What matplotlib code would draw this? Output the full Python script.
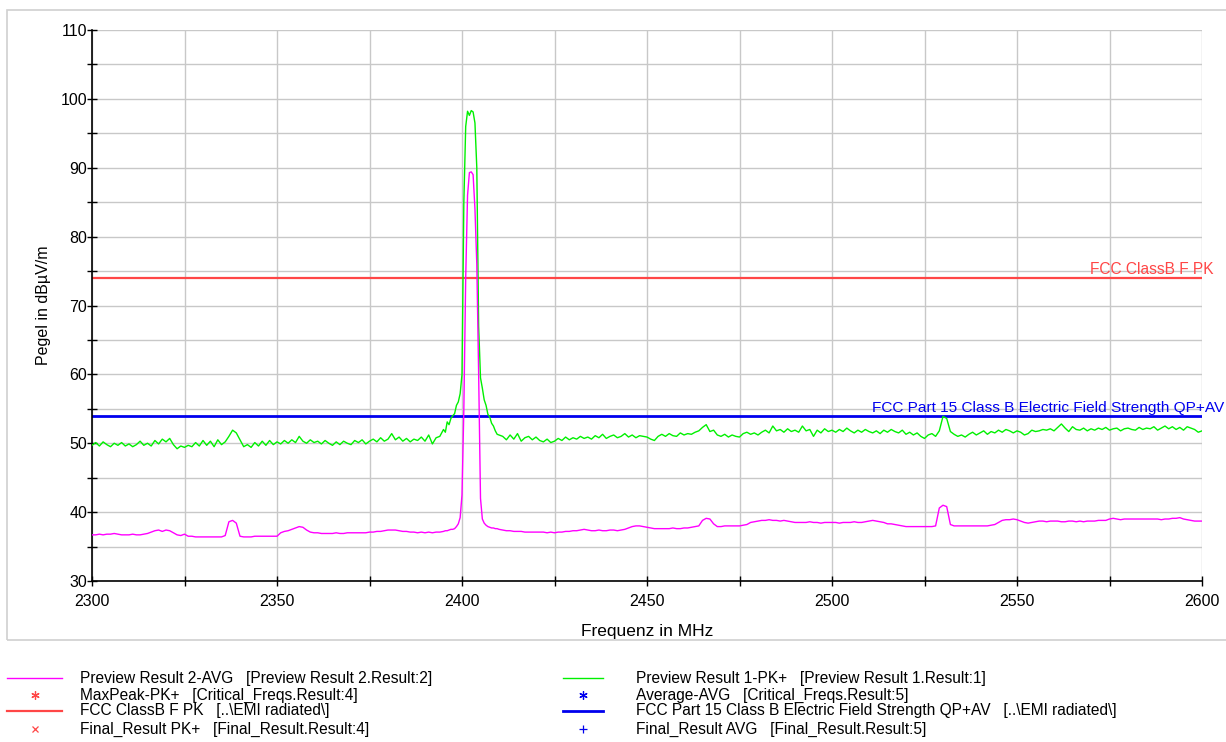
import numpy as np
import matplotlib
matplotlib.use("Agg")
import matplotlib.pyplot as plt
from matplotlib.lines import Line2D
from matplotlib.patches import Rectangle

plt.rcParams["font.family"] = ["Liberation Sans", "DejaVu Sans"]

# frequency points (MHz)
freq_lo = list(range(2300, 2396))
freq_peak = [2395.5, 2396, 2396.5, 2397, 2397.5, 2398, 2398.5, 2399, 2399.5, 2400,
             2400.5, 2401, 2401.5, 2402, 2402.5, 2403, 2403.5, 2404, 2404.5, 2405,
             2405.5, 2406, 2406.5, 2407, 2407.5, 2408, 2408.5, 2409, 2409.5, 2410]
freq_hi = list(range(2411, 2601))

# Preview Result 1-PK+ (green)
pk_lo = [49.7, 50.1, 49.6, 50.2, 49.8, 49.5, 50.0, 49.7, 50.1, 49.6,
         49.9, 49.5, 49.8, 50.3, 49.7, 50.0, 49.6, 50.4, 49.9, 50.6,
         50.2, 50.7, 49.8, 49.2, 49.6, 49.4, 49.7, 49.5, 50.1, 49.6,
         50.4, 49.7, 50.3, 49.5, 50.5, 49.8, 50.2, 51.0, 51.9, 51.5,
         50.5, 49.5, 49.8, 49.4, 50.1, 49.6, 50.3, 49.7, 50.4, 49.8,
         50.2, 49.9, 50.4, 50.0, 50.5, 50.1, 51.0, 50.3, 50.0, 50.5,
         50.1, 50.3, 49.9, 50.4, 50.0, 49.7, 50.2, 49.8, 50.3, 50.0,
         49.8, 50.4, 50.1, 50.5, 49.9, 50.3, 50.6, 50.2, 50.8, 50.3,
         50.6, 51.4, 50.5, 50.9, 50.3, 50.7, 50.2, 50.6, 50.4, 50.9,
         50.3, 51.2, 49.9, 50.8, 51.0, 52.0]
pk_peak = [51.6, 53.1, 52.7, 53.6, 54.0, 54.3, 55.5, 56.0, 57.2, 60.0,
           85.0, 96.0, 98.2, 97.6, 98.3, 98.1, 96.5, 90.0, 67.0, 59.5,
           58.0, 56.3, 55.5, 54.2, 53.8, 52.9, 52.5, 51.8, 51.3, 51.2]
pk_hi = [51.0, 50.5, 51.2, 50.6, 51.4, 50.3, 50.8, 51.0, 50.5, 50.9,
         50.4, 50.2, 50.6, 50.1, 50.3, 50.7, 50.4, 50.9, 50.5, 50.8,
         50.6, 51.0, 50.7, 50.9, 50.6, 51.1, 50.8, 51.3, 50.7, 51.0,
         51.2, 50.8, 51.0, 51.4, 50.9, 51.2, 50.8, 51.1, 51.0, 50.9,
         50.6, 50.4, 51.0, 51.3, 51.0, 51.4, 51.1, 51.0, 51.5, 51.2,
         51.4, 51.3, 51.6, 51.8, 52.3, 52.7, 51.7, 51.9, 51.2, 51.0,
         51.3, 50.9, 51.2, 51.0, 50.9, 51.4, 51.6, 51.3, 51.5, 51.2,
         51.6, 51.9, 51.5, 52.5, 51.8, 52.0, 51.6, 52.1, 51.7, 51.9,
         51.6, 52.5, 51.8, 52.0, 51.0, 51.9, 51.5, 52.1, 51.7, 51.9,
         51.6, 52.0, 51.7, 52.2, 51.8, 51.5, 51.9, 51.6, 52.0, 51.7,
         51.5, 51.8, 51.4, 51.9, 51.6, 52.0, 51.7, 51.5, 51.9, 51.3,
         51.6, 51.2, 51.5, 51.0, 50.7, 51.2, 51.4, 51.0, 51.8, 53.9,
         53.6, 51.7, 51.3, 51.0, 51.2, 50.9, 51.3, 51.6, 51.2, 51.5,
         51.8, 51.3, 51.7, 51.5, 51.9, 51.6, 52.0, 51.8, 51.5, 51.8,
         51.6, 51.2, 51.4, 51.9, 51.7, 51.8, 52.0, 51.9, 52.1, 51.8,
         52.3, 52.8, 52.2, 51.7, 52.4, 52.0, 51.9, 52.2, 51.8, 52.1,
         51.9, 52.2, 52.0, 52.3, 51.9, 52.1, 52.2, 51.8, 52.1, 52.2,
         52.0, 51.9, 52.3, 52.0, 52.2, 52.1, 52.4, 51.9, 52.2, 52.5,
         52.1, 52.4, 52.0, 52.3, 51.9, 52.4, 52.2, 52.0, 51.6, 51.8]

# Preview Result 2-AVG (magenta)
avg_lo = [36.7, 36.7, 36.8, 36.7, 36.8, 36.8, 36.9, 36.8, 36.7, 36.7,
          36.7, 36.8, 36.7, 36.7, 36.8, 36.9, 37.1, 37.3, 37.4, 37.2,
          37.4, 37.3, 37.0, 36.7, 36.6, 36.8, 36.5, 36.5, 36.4, 36.4,
          36.4, 36.4, 36.4, 36.4, 36.4, 36.4, 36.6, 38.6, 38.8, 38.4,
          36.5, 36.4, 36.4, 36.4, 36.5, 36.5, 36.5, 36.5, 36.5, 36.5,
          36.5, 37.0, 37.2, 37.3, 37.5, 37.7, 37.9, 37.8, 37.4, 37.1,
          37.0, 37.0, 36.9, 36.9, 36.9, 36.9, 37.0, 36.9, 36.9, 37.0,
          37.0, 37.0, 37.0, 37.0, 37.0, 37.1, 37.1, 37.2, 37.2, 37.3,
          37.4, 37.4, 37.4, 37.3, 37.2, 37.2, 37.1, 37.1, 37.0, 37.1,
          37.0, 37.1, 37.0, 37.1, 37.1, 37.2]
avg_peak = [37.3, 37.3, 37.4, 37.5, 37.5, 37.6, 37.9, 38.3, 39.2, 42.5,
            55.0, 74.0, 86.0, 89.3, 89.4, 89.0, 84.0, 76.0, 60.0, 42.0,
            39.0, 38.4, 38.1, 37.9, 37.8, 37.7, 37.7, 37.6, 37.6, 37.5]
avg_hi = [37.4, 37.3, 37.3, 37.2, 37.2, 37.2, 37.1, 37.1, 37.1, 37.1,
          37.1, 37.1, 37.0, 37.1, 37.0, 37.1, 37.1, 37.2, 37.2, 37.3,
          37.3, 37.4, 37.5, 37.4, 37.3, 37.3, 37.4, 37.3, 37.3, 37.4,
          37.4, 37.3, 37.4, 37.5, 37.7, 37.9, 38.0, 38.0, 37.9, 37.8,
          37.7, 37.6, 37.6, 37.6, 37.6, 37.6, 37.7, 37.6, 37.6, 37.7,
          37.7, 37.8, 37.9, 38.0, 38.8, 39.1, 39.0, 38.3, 37.9, 37.9,
          38.0, 38.0, 38.0, 38.0, 38.0, 38.1, 38.2, 38.5, 38.6, 38.7,
          38.8, 38.8, 38.9, 38.8, 38.8, 38.7, 38.8, 38.7, 38.6, 38.5,
          38.5, 38.5, 38.5, 38.6, 38.5, 38.5, 38.4, 38.5, 38.5, 38.5,
          38.5, 38.4, 38.5, 38.5, 38.5, 38.6, 38.5, 38.5, 38.6, 38.7,
          38.8, 38.7, 38.6, 38.5, 38.3, 38.3, 38.2, 38.1, 38.0, 37.9,
          37.9, 37.9, 37.9, 37.9, 37.9, 37.9, 37.9, 38.0, 40.6, 41.0,
          40.8, 38.2, 38.0, 38.0, 38.0, 38.0, 38.0, 38.0, 38.0, 38.0,
          38.0, 38.0, 38.1, 38.2, 38.5, 38.8, 38.9, 38.9, 39.0, 38.9,
          38.7, 38.5, 38.4, 38.5, 38.6, 38.7, 38.7, 38.6, 38.7, 38.7,
          38.7, 38.6, 38.6, 38.7, 38.7, 38.6, 38.7, 38.6, 38.7, 38.7,
          38.7, 38.8, 38.8, 38.8, 39.0, 39.1, 39.0, 38.9, 39.0, 39.0,
          39.0, 39.0, 39.0, 39.0, 39.0, 39.0, 39.0, 39.0, 38.9, 39.0,
          39.0, 39.1, 39.1, 39.2, 39.0, 38.9, 38.8, 38.7, 38.7, 38.7]

# limit lines
limit_pk = 74.0
limit_av = 54.0

legend_labels = [
    "Preview Result 2-AVG   [Preview Result 2.Result:2]",
    "MaxPeak-PK+   [Critical_Freqs.Result:4]",
    "FCC ClassB F PK   [..\\EMI radiated\\]",
    "Final_Result PK+   [Final_Result.Result:4]",
    "Preview Result 1-PK+   [Preview Result 1.Result:1]",
    "Average-AVG   [Critical_Freqs.Result:5]",
    "FCC Part 15 Class B Electric Field Strength QP+AV   [..\\EMI radiated\\]",
    "Final_Result AVG   [Final_Result.Result:5]",
]

freq = np.array(freq_lo + freq_peak + freq_hi, dtype=float)
pk = np.array(pk_lo + pk_peak + pk_hi)
avg = np.array(avg_lo + avg_peak + avg_hi)

fig = plt.figure(figsize=(12.26, 7.42), dpi=100)
frame = Rectangle((7/1226, 1-640/742), 1.0, 630/742, transform=fig.transFigure,
                  facecolor="none", edgecolor="#d0d0d0", lw=1.2, zorder=-1)
fig.patches.append(frame)
ax = fig.add_axes([92/1226, 1-581/742, 1110/1226, 551/742])
ax.set_facecolor("none")

ax.plot(freq, pk, color="#00f000", lw=1, zorder=3)
ax.plot(freq, avg, color="#ff00ff", lw=1, zorder=4)
ax.axhline(limit_pk, color="#ff4646", lw=1.6, zorder=2)
ax.axhline(limit_av, color="#0000ee", lw=2, zorder=2)

fig.text(1213/1226, 1-274/742, "FCC ClassB F PK", color="#ff4646", fontsize=11.2,
         ha="right", va="baseline")
fig.text(872/1226, 1-412/742, "FCC Part 15 Class B Electric Field Strength QP+AV", color="#0000ee",
         fontsize=11.05, ha="left", va="baseline")

ax.set_xlim(2300, 2600)
ax.set_ylim(30, 110)
ax.set_xticks(np.arange(2300, 2601, 25))
ax.set_xticklabels([str(v) if v % 50 == 0 else "" for v in range(2300, 2601, 25)])
ax.set_yticks(np.arange(30, 111, 5))
ax.set_yticklabels([str(v) if v % 10 == 0 else "" for v in range(30, 111, 5)])
ax.tick_params(direction="inout", length=7, width=1, labelsize=11.5)
ax.tick_params(axis="x", pad=6)
ax.tick_params(axis="y", pad=0)
ax.grid(True, color="#c8c8c8", lw=1)
ax.set_axisbelow(True)
for s in ["top", "right"]:
    ax.spines[s].set_visible(False)
ax.spines["left"].set_linewidth(1.2)
ax.spines["bottom"].set_linewidth(1.2)

ax.set_xlabel("Frequenz in MHz", fontsize=12.5, labelpad=11)
ax.set_ylabel("Pegel in dBµV/m", fontsize=11.5, labelpad=7)

# legend drawn by hand, two columns
rows_y = [678, 695, 711, 729]
styles = [("line", "#ff00ff", 1), ((6, 2, 0), "#ff4646", 0), ("line", "#ff4646", 1.6), ("x", "#ff4646", 0),
          ("line", "#00f000", 1), ((6, 2, 0), "#0000ee", 0), ("line", "#0000ee", 2), ("+", "#0000ee", 0)]
sizes = [0, 6, 0, 5, 0, 6, 0, 6]
for i, lab in enumerate(legend_labels):
    col = i // 4
    y = 1 - rows_y[i % 4] / 742
    x0, x1, xt = (7, 62, 80) if col == 0 else (563, 603, 636)
    kind, c, lw = styles[i]
    if kind == "line":
        fig.lines.append(Line2D([x0/1226, x1/1226], [y, y], transform=fig.transFigure, color=c, lw=lw))
    else:
        fig.lines.append(Line2D([(x0 + x1)/2/1226], [y], transform=fig.transFigure, color=c,
                                marker=kind, ms=sizes[i], mew=0.9, lw=0))
    fig.text(xt/1226, y, lab, fontsize=11.2, va="center", ha="left")

fig.savefig("out.png", dpi=100)
